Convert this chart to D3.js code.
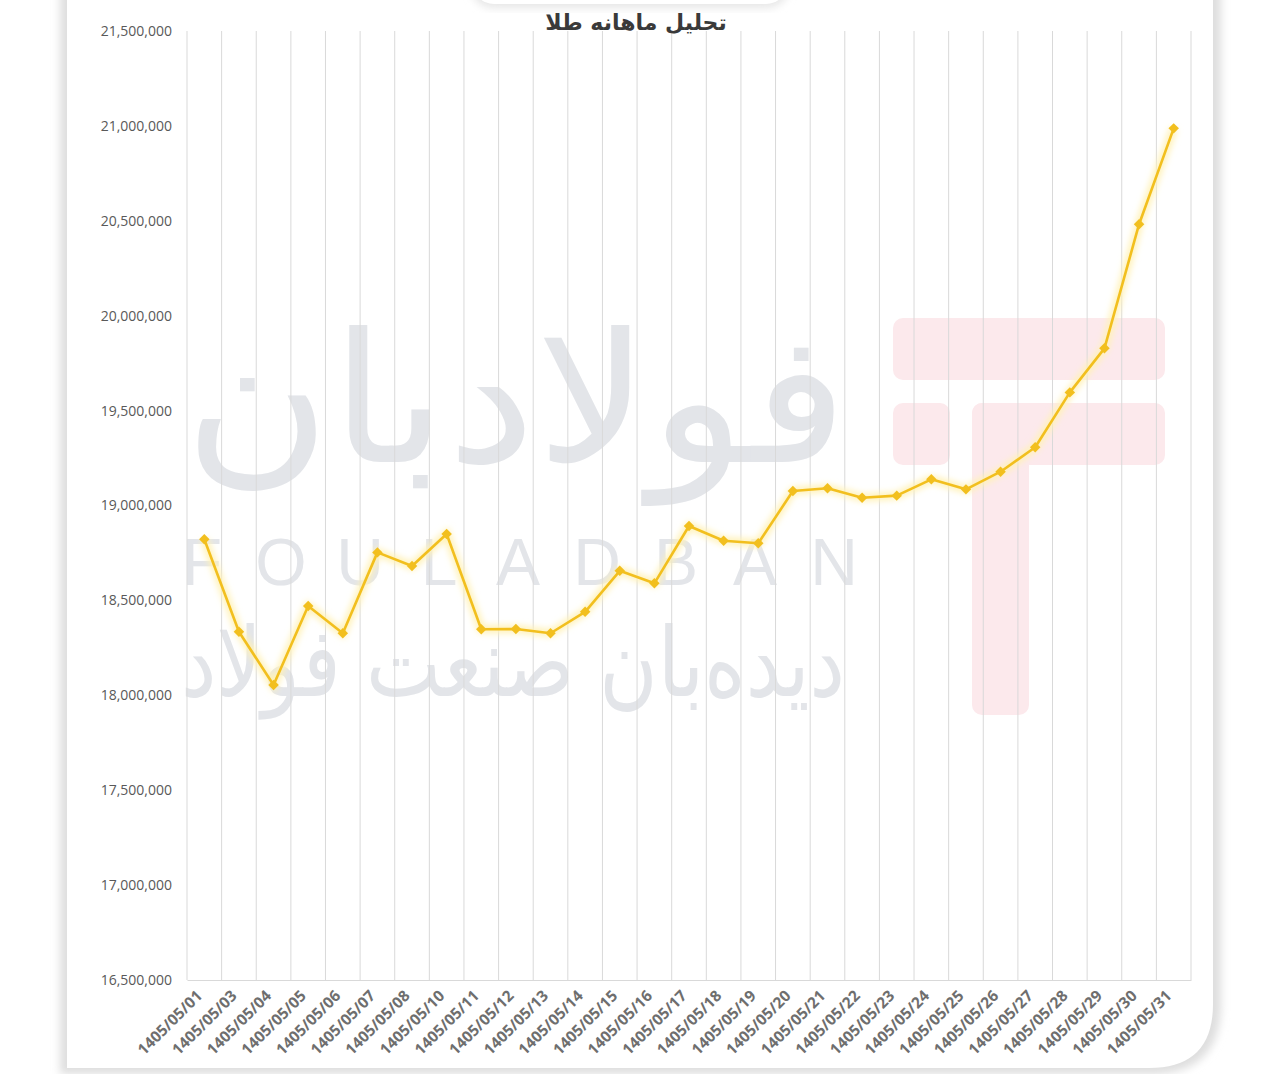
<!DOCTYPE html>
<html>
<head>
<meta charset="utf-8">
<script src="https://cdn.jsdelivr.net/npm/d3@7/dist/d3.min.js"></script>
<style>
  html, body { margin: 0; padding: 0; background: #ffffff; }
  svg { display: block; }
</style>
</head>
<body>
<svg id="chart" width="1280" height="1074"></svg>
<script>
// ---- data ----
const title = "تحلیل ماهانه طلا";
const categories = [
  "1405/05/01","1405/05/03","1405/05/04","1405/05/05","1405/05/06","1405/05/07",
  "1405/05/08","1405/05/10","1405/05/11","1405/05/12","1405/05/13","1405/05/14",
  "1405/05/15","1405/05/16","1405/05/17","1405/05/18","1405/05/19","1405/05/20",
  "1405/05/21","1405/05/22","1405/05/23","1405/05/24","1405/05/25","1405/05/26",
  "1405/05/27","1405/05/28","1405/05/29","1405/05/30","1405/05/31"
];
const goldPrice = [
  18822000, 18335000, 18054000, 18470000, 18327000, 18753000,
  18681000, 18850000, 18348000, 18349000, 18327000, 18440000,
  18656000, 18590000, 18892000, 18814000, 18801000, 19076000,
  19091000, 19041000, 19052000, 19138000, 19085000, 19178000,
  19307000, 19596000, 19828000, 20482000, 20987000
];
const yTicks = [16500000,17000000,17500000,18000000,18500000,19000000,19500000,20000000,20500000,21000000,21500000];
const yDomain = [16500000, 21500000];
const watermarkMain = "فولادبان";
const watermarkLatin = "FOULADBAN";
const watermarkSub = "دیده‌بان صنعت فولاد";

// ---- layout ----
const plot = { left: 187, right: 1191, top: 31, bottom: 980 };
const svg = d3.select("#chart");
const defs = svg.append("defs");

const shadow = defs.append("filter").attr("id","cardShadow")
  .attr("x","-10%").attr("y","-10%").attr("width","120%").attr("height","120%");
shadow.append("feGaussianBlur").attr("stdDeviation", 4);

const glow = defs.append("filter").attr("id","glow")
  .attr("x","-10%").attr("y","-10%").attr("width","120%").attr("height","120%");
glow.append("feGaussianBlur").attr("stdDeviation", 3);

// card background: straight left edge, rounded bottom-right corner
svg.append("path").attr("d", `M60,-80 L1221,-80 L1221,1004 Q1221,1074 1151,1074 L60,1074 L60,1100 Z`)
  .attr("fill", "#dedede").attr("filter", "url(#cardShadow)");
svg.append("path").attr("d", `M67,-80 L1213,-80 L1213,1004 Q1213,1068 1149,1068 L67,1068 Z`)
  .attr("fill", "#ffffff");
// top title tab
svg.append("rect").attr("x", 470).attr("y", -40).attr("width", 320).attr("height", 48)
  .attr("rx", 24).attr("fill", "#e6e6e6").attr("filter", "url(#cardShadow)");
svg.append("rect").attr("x", 472).attr("y", -40).attr("width", 316).attr("height", 44)
  .attr("rx", 22).attr("fill", "#ffffff");

// ---- watermark ----
const wm = svg.append("g").attr("class","watermark");
const wmGray = "#e3e5e9";
wm.append("text").text(watermarkMain)
  .attr("x", 516).attr("y", 462).attr("text-anchor","middle")
  .attr("textLength", 664).attr("lengthAdjust", "spacingAndGlyphs")
  .style("font-family", "DejaVu Sans").style("font-size", "180px")
  .attr("fill", wmGray);
wm.selectAll("text.lat").data(watermarkLatin.split("")).join("text").attr("class","lat")
  .attr("x", (d,i) => 202 + i * 79).attr("y", 585)
  .attr("text-anchor","middle")
  .style("font-family","Liberation Sans").style("font-size","66px")
  .attr("fill", wmGray).text(d => d);
wm.append("text").text(watermarkSub)
  .attr("x", 513).attr("y", 696).attr("text-anchor","middle")
  .attr("textLength", 664).attr("lengthAdjust", "spacingAndGlyphs")
  .style("font-family", "DejaVu Sans").style("font-size", "96px")
  .attr("fill", wmGray);
// faint red logo
const pink = "#fce9ec";
wm.append("rect").attr("x",893).attr("y",318).attr("width",272).attr("height",62).attr("rx",10).attr("fill",pink);
wm.append("rect").attr("x",893).attr("y",403).attr("width",57).attr("height",62).attr("rx",10).attr("fill",pink);
wm.append("rect").attr("x",972).attr("y",403).attr("width",193).attr("height",62).attr("rx",10).attr("fill",pink);
wm.append("rect").attr("x",972).attr("y",403).attr("width",57).attr("height",312).attr("rx",10).attr("fill",pink);

// ---- scales ----
const x = d3.scaleBand().domain(categories).range([plot.left, plot.right]).padding(0);
const y = d3.scaleLinear().domain(yDomain).range([plot.bottom, plot.top]);
const cx = d => x(d) + x.bandwidth() / 2;

// vertical gridlines at category boundaries
const bounds = categories.map(c => x(c)).concat([plot.right]);
svg.append("g").selectAll("line").data(bounds).join("line")
  .attr("x1", d => d).attr("x2", d => d)
  .attr("y1", plot.top).attr("y2", plot.bottom)
  .attr("stroke", "#d9d9d9").attr("stroke-width", 1);

// x axis
const xAxis = svg.append("g").attr("transform", `translate(0,${plot.bottom})`)
  .call(d3.axisBottom(x).tickSize(0).tickPadding(0));
xAxis.select(".domain").attr("stroke", "#d9d9d9").attr("stroke-width", 1.2);
xAxis.selectAll("text")
  .attr("transform", "translate(-5,13) rotate(-45)")
  .attr("text-anchor", "end")
  .attr("dy", "0.35em")
  .attr("y", 0)
  .style("font-family", "Open Sans").style("font-weight", "700")
  .style("font-size", "15.5px").attr("fill", "#6e6e6e");

// y axis
const yAxis = svg.append("g").attr("transform", `translate(${plot.left},0)`)
  .call(d3.axisLeft(y).tickValues(yTicks).tickFormat(d3.format(",")).tickSize(0).tickPadding(15));
yAxis.select(".domain").remove();
yAxis.selectAll("text")
  .style("font-family", "Open Sans").style("font-size", "14px").attr("fill", "#595959");

// ---- line ----
const pts = categories.map((c, i) => [cx(c), y(goldPrice[i])]);
const line = d3.line();
svg.append("path").attr("d", line(pts)).attr("fill","none")
  .attr("stroke", "#fff2b8").attr("stroke-width", 8).attr("filter","url(#glow)");
svg.append("path").attr("d", line(pts)).attr("fill","none")
  .attr("stroke", "#F2BF1E").attr("stroke-width", 2.6).attr("stroke-linejoin","round");
svg.append("g").selectAll("path").data(pts).join("path")
  .attr("d", d3.symbol(d3.symbolDiamond2, 70)())
  .attr("transform", d => `translate(${d[0]},${d[1]})`)
  .attr("fill", "#F2BF1E");

// ---- title ----
svg.append("text").text(title)
  .attr("x", 636).attr("y", 30).attr("text-anchor","middle")
  .style("font-family","DejaVu Sans").style("font-weight","700").style("font-size","22px")
  .attr("fill","#3a3a3a");
</script>
</body>
</html>
